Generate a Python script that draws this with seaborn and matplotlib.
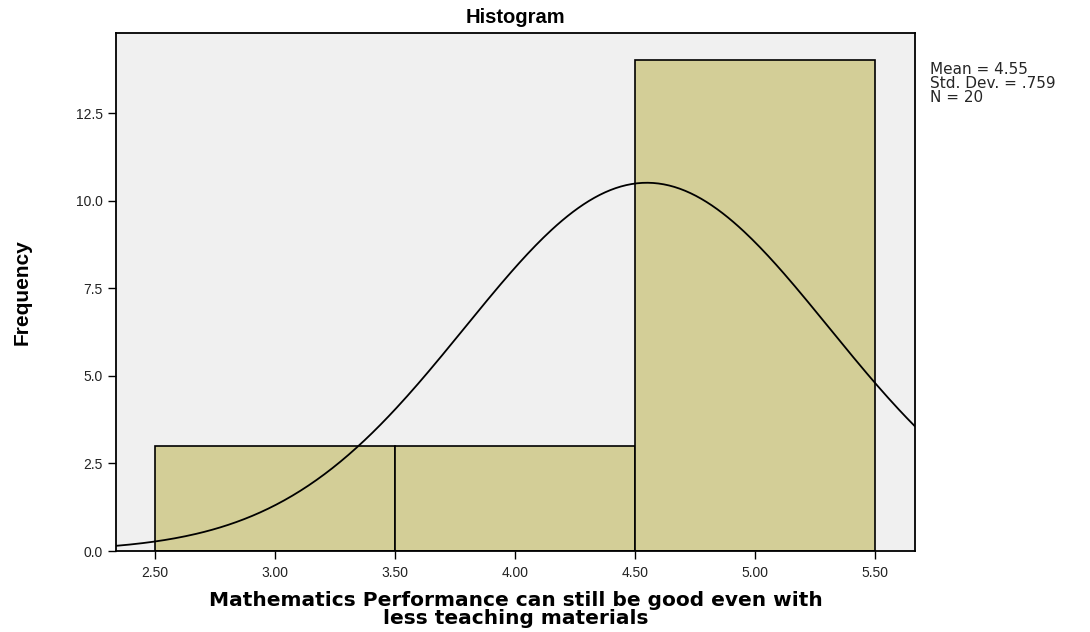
#!/usr/bin/env python
''' SPSS-style histogram with a fitted normal curve.
'''

import numpy as np
import pandas as pd
import seaborn as sns
import matplotlib.pyplot as plt
import matplotlib.ticker as mticker

# Response counts (Likert scores 3, 4, 5)
scores = [3, 4, 5]
counts = [3, 3, 14]
bin_edges = [2.5, 3.5, 4.5, 5.5]
x_ticks = [2.5, 3.0, 3.5, 4.0, 4.5, 5.0, 5.5]
y_ticks = [0.0, 2.5, 5.0, 7.5, 10.0, 12.5]


def main():
    responses = pd.DataFrame({'score': np.repeat(scores, counts)})
    make_histogram(responses)


def make_histogram(responses):
    sns.set_style('white')
    plt.rcParams['font.family'] = ['Liberation Sans', 'DejaVu Sans']

    fig = plt.figure(figsize=(10.9, 6.32), dpi=100)
    ax = fig.add_axes([0.1064, 0.128, 0.733, 0.8196])
    ax.set_facecolor('#F0F0F0')

    sns.histplot(data=responses, x='score', bins=bin_edges, ax=ax,
                 color='#D3CE97', alpha=1.0, edgecolor='black', linewidth=1.2)

    # Normal curve scaled to counts (N * bin width)
    mean = responses.score.mean()
    sd = responses.score.std()
    n = len(responses)
    xs = np.linspace(2.3375, 5.667, 300)
    ys = n * 1.0 * np.exp(-0.5 * ((xs - mean) / sd) ** 2) / (sd * np.sqrt(2 * np.pi))
    sns.lineplot(x=xs, y=ys, ax=ax, color='black', linewidth=1.3)

    ax.set_xlim(2.3375, 5.667)
    ax.set_ylim(0, 14.78)
    ax.set_xticks(x_ticks)
    ax.set_yticks(y_ticks)
    ax.xaxis.set_major_formatter(mticker.FormatStrFormatter('%.2f'))
    ax.yaxis.set_major_formatter(mticker.FormatStrFormatter('%.1f'))
    ax.tick_params(direction='out', length=6, width=1, color='black',
                   labelsize=10, labelcolor='#222222', bottom=True, left=True)
    ax.tick_params(axis='x', pad=5)
    for spine in ax.spines.values():
        spine.set_color('black')
        spine.set_linewidth(1.3)

    ax.set_title('Histogram', fontsize=14.5, fontweight='bold', pad=7,
                 color='black')
    ax.set_xlabel('Mathematics Performance can still be good even with\n'
                  'less teaching materials', fontsize=14.5, fontweight='bold',
                  family=['DejaVu Sans'], linespacing=0.92, labelpad=8,
                  color='black')
    ax.set_ylabel('Frequency', fontsize=15, fontweight='bold', color='black',
                  family=['Liberation Sans Narrow', 'Liberation Sans'])
    ax.yaxis.set_label_coords(-0.106, 0.5)

    fig.text(0.853, 0.902, 'Mean = %.2f\nStd. Dev. = .%03d\nN = %d'
             % (mean, round(sd * 1000), n), family=['DejaVu Sans'],
             fontsize=11, va='top', ha='left', linespacing=0.92)

    fig.savefig('out.png', dpi=100)


if __name__ == '__main__':
    main()
